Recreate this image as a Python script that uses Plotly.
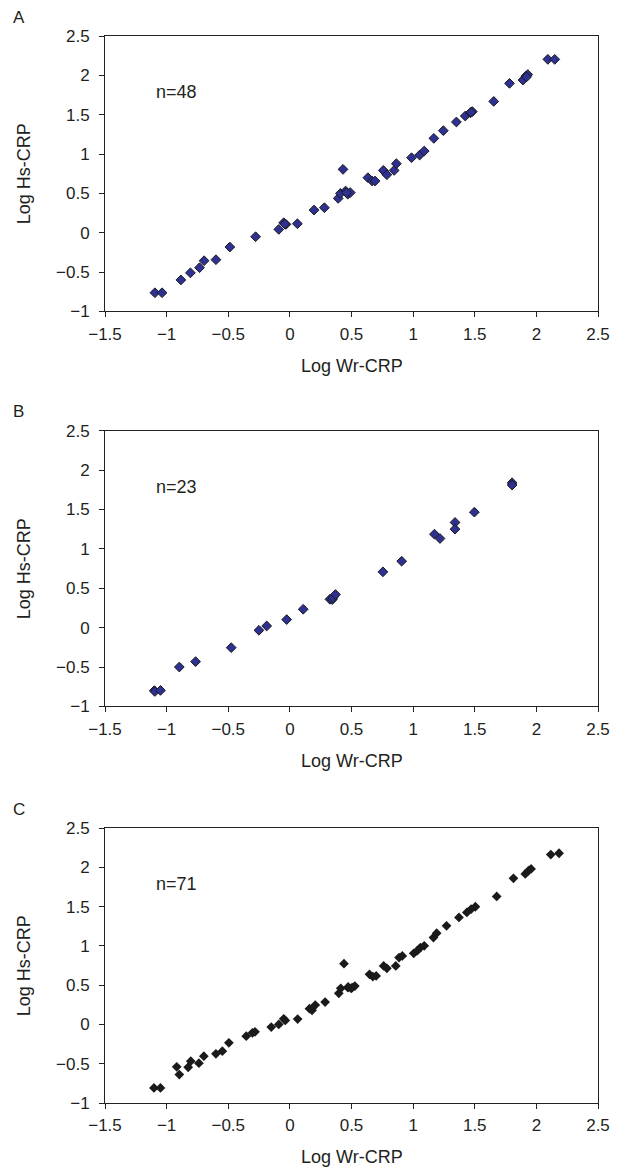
import plotly.graph_objects as go

# panel A (n=48)
a_wr = [-1.095, -1.037, -0.884, -0.807, -0.733, -0.696, -0.60, -0.487, -0.278, -0.09,
        -0.05, -0.032, -0.04, 0.061, 0.196, 0.28, 0.392, 0.41, 0.431, 0.452,
        0.47, 0.49, 0.46, 0.633, 0.668, 0.691, 0.758, 0.787, 0.846, 0.864,
        0.987, 1.053, 1.09, 1.168, 1.245, 1.351, 1.423, 1.465, 1.48, 1.47,
        1.654, 1.782, 1.891, 1.915, 1.93, 1.92, 2.093, 2.149]
a_hs = [-0.763, -0.763, -0.60, -0.51, -0.445, -0.356, -0.343, -0.182, -0.051, 0.042,
        0.127, 0.106, 0.11, 0.114, 0.288, 0.318, 0.436, 0.50, 0.805, 0.53,
        0.49, 0.51, 0.51, 0.699, 0.657, 0.657, 0.792, 0.737, 0.792, 0.877,
        0.953, 0.987, 1.038, 1.199, 1.297, 1.407, 1.483, 1.525, 1.54, 1.53,
        1.669, 1.898, 1.94, 1.99, 2.01, 1.98, 2.203, 2.203]

# panel B (n=23)
b_wr = [-1.10, -1.095, -1.05, -0.897, -0.765, -0.476, -0.251, -0.188, -0.026, 0.108,
        0.325, 0.344, 0.35, 0.37, 0.755, 0.907, 1.173, 1.218, 1.34, 1.34,
        1.497, 1.803, 1.803]
b_hs = [-0.80, -0.81, -0.797, -0.50, -0.432, -0.254, -0.034, 0.021, 0.102, 0.233,
        0.36, 0.356, 0.38, 0.42, 0.708, 0.843, 1.186, 1.131, 1.335, 1.25,
        1.466, 1.839, 1.81]

# panel C (n=71, all samples)
c_wr = [-1.103, -1.05, -0.918, -0.897, -0.825, -0.804, -0.738, -0.698, -0.60, -0.548,
        -0.495, -0.354, -0.304, -0.283, -0.151, -0.09, -0.05, -0.037, 0.063, 0.159,
        0.18, 0.206, 0.286, 0.397, 0.413, 0.439, 0.471, 0.497, 0.473, 0.505,
        0.527, 0.646, 0.673, 0.70, 0.761, 0.787, 0.859, 0.886, 0.912, 1.005,
        1.032, 1.059, 1.09, 1.165, 1.191, 1.271, 1.372, 1.436, 1.471, 1.505,
        1.678, 1.814, 1.91, 1.936, 1.957, 2.117, 2.184]
c_hs = [-0.809, -0.809, -0.54, -0.638, -0.545, -0.468, -0.494, -0.404, -0.374, -0.34,
        -0.234, -0.149, -0.106, -0.094, -0.034, 0.0, 0.072, 0.051, 0.068, 0.20,
        0.179, 0.247, 0.285, 0.396, 0.46, 0.774, 0.468, 0.46, 0.477, 0.468,
        0.489, 0.638, 0.609, 0.617, 0.745, 0.715, 0.745, 0.851, 0.872, 0.906,
        0.936, 0.979, 1.0, 1.106, 1.162, 1.255, 1.362, 1.426, 1.468, 1.498,
        1.63, 1.86, 1.915, 1.957, 1.979, 2.162, 2.179]

panels = [("A", "n=48", a_wr, a_hs), ("B", "n=23", b_wr, b_hs), ("C", "n=71", c_wr, c_hs)]
domains = [[0.7419, 1.0], [0.3717, 0.6301], [0.0, 0.2577]]

FONT = "Liberation Sans, Arial, sans-serif"
TXT = "#231f20"

fig = go.Figure()

for i, (letter, ntxt, xs, ys) in enumerate(panels):
    k = "" if i == 0 else str(i + 1)
    if letter == "C":
        marker = dict(symbol="diamond", size=7.5, color="#1a1a1a", line=dict(width=0))
    else:
        marker = dict(symbol="diamond", size=7.5, color="#2e3192",
                      line=dict(width=1, color="#1a1a1a"))
    fig.add_trace(go.Scatter(x=xs, y=ys, mode="markers", marker=marker,
                             xaxis="x" + k, yaxis="y" + k, showlegend=False))

    axis_common = dict(showgrid=False, zeroline=False, showline=True, linecolor="#222",
                       linewidth=1, mirror=True, ticks="outside", ticklen=5,
                       tickcolor="#222", dtick=0.5,
                       tickfont=dict(family=FONT, size=17, color=TXT))
    fig.update_layout({
        "xaxis" + k: dict(axis_common, range=[-1.5, 2.5], domain=[0, 1],
                          anchor="y" + k, tick0=-1.5, ticklabelstandoff=2),
        "yaxis" + k: dict(axis_common, range=[-1, 2.5], domain=domains[i],
                          anchor="x" + k, tick0=-1, ticklabelstandoff=6),
    })

    xd = "x" + k + " domain"
    yd = "y" + k + " domain"
    fig.add_annotation(text=letter, xref="paper", yref=yd, x=-0.175, y=1.068,
                       showarrow=False, xanchor="center", yanchor="middle",
                       font=dict(family=FONT, size=17, color=TXT))
    fig.add_annotation(text=ntxt, xref="x" + k, yref="y" + k, x=-1.1, y=1.79,
                       showarrow=False, xanchor="left", yanchor="middle",
                       font=dict(family=FONT, size=18, color=TXT))
    fig.add_annotation(text="Log Wr-CRP", xref=xd, yref=yd, x=0.5, y=-0.197,
                       showarrow=False, xanchor="center", yanchor="middle",
                       font=dict(family=FONT, size=18, color=TXT))
    fig.add_annotation(text="Log Hs-CRP", xref="paper", yref=yd, x=-0.165, y=0.5,
                       textangle=-90, showarrow=False, xanchor="center", yanchor="middle",
                       font=dict(family=FONT, size=18, color=TXT))

# page body adds 8px margin, so the figure is 8px smaller and shifted
fig.update_layout(width=614, height=1161, plot_bgcolor="white", paper_bgcolor="white",
                  margin=dict(l=97, r=14, t=28, b=66))

fig.write_html("out.html")
